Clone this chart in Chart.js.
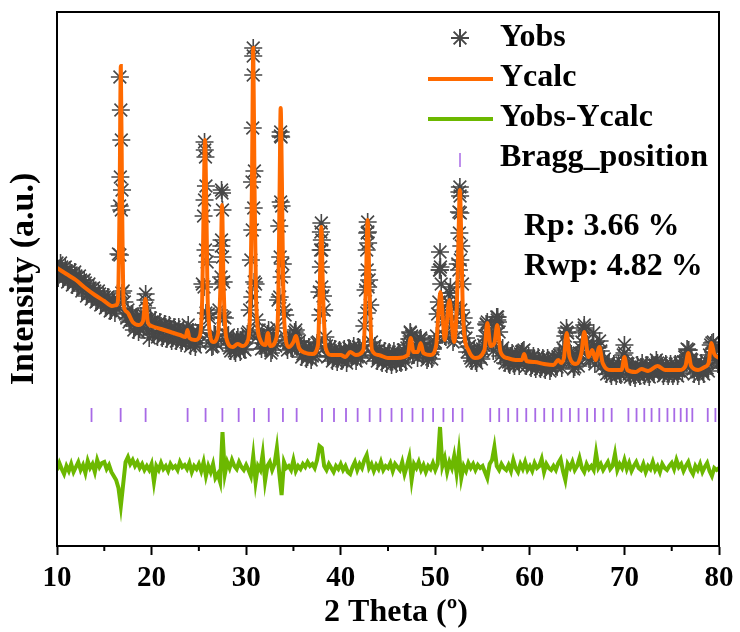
<!DOCTYPE html>
<html>
<head>
<meta charset="utf-8">
<script src="https://cdn.jsdelivr.net/npm/chart.js@4.4.1/dist/chart.umd.min.js"></script>
<style>
  html, body { margin: 0; padding: 0; background: #fff; }
  #wrap { width: 740px; height: 632px; }
</style>
</head>
<body>
<div id="wrap"><canvas id="xrd" width="740" height="632"></canvas></div>
<script>
// observed pattern on a regular 2theta grid
const obsStart = 10;
const obsStep = 0.25;
const yObs = [
  283, 272, 279, 270, 275, 266, 273, 263, 270, 260,
  266, 257, 263, 252, 258, 249, 255, 245, 252, 243,
  249, 240, 246, 236, 243, 238, 292, 436, 255, 232,
  236, 226, 231, 220, 226, 217, 225, 230, 238, 208,
  224, 212, 221, 215, 220, 210, 219, 213, 217, 208,
  216, 209, 214, 205, 212, 216, 206, 211, 203, 209,
  213, 216, 330, 360, 232, 206, 200, 211, 207, 262,
  336, 228, 210, 198, 204, 195, 206, 199, 204, 197,
  208, 214, 286, 490, 262, 210, 203, 207, 198, 212,
  207, 196, 205, 218, 320, 340, 236, 206, 203, 198,
  208, 212, 200, 199, 192, 196, 189, 195, 190, 197,
  203, 254, 296, 236, 200, 190, 194, 188, 193, 189,
  194, 187, 192, 188, 197, 190, 194, 189, 198, 194,
  220, 296, 266, 204, 191, 195, 188, 192, 186, 190,
  191, 185, 190, 186, 189, 184, 188, 192, 198, 207,
  210, 191, 197, 201, 206, 193, 195, 188, 194, 197,
  204, 232, 276, 236, 210, 228, 253, 220, 208, 240,
  334, 300, 228, 208, 199, 188, 192, 185, 193, 189,
  197, 210, 224, 206, 203, 211, 229, 214, 196, 188,
  191, 184, 190, 183, 189, 185, 192, 195, 186, 187,
  187, 181, 186, 180, 185, 179, 184, 180, 185, 178,
  184, 180, 189, 186, 198, 210, 213, 193, 186, 179,
  188, 193, 204, 218, 201, 187, 198, 194, 190, 199,
  195, 185, 177, 180, 173, 179, 174, 178, 172, 183,
  193, 183, 172, 177, 171, 176, 172, 179, 174, 177,
  172, 178, 175, 181, 183, 176, 179, 173, 178, 174,
  179, 173, 178, 175, 181, 184, 190, 196, 187, 177,
  180, 174, 179, 175, 181, 178, 191, 203, 198, 186,
  183
];

// the in-between observed points (10.125, 10.375, ...)
const obsMidStart = 10.125;
const yObsMid = [
  268, 283, 267, 279, 264, 276, 261, 274, 259, 270,
  255, 266, 250, 262, 247, 258, 244, 255, 241, 251,
  238, 249, 235, 246, 233, 247, 340, 356, 244, 228,
  224, 232, 216, 229, 214, 230, 218, 252, 215, 228,
  212, 226, 209, 224, 208, 222, 207, 221, 205, 219,
  205, 219, 203, 216, 204, 221, 200, 214, 199, 213,
  203, 262, 396, 284, 228, 199, 212, 202, 236, 300,
  264, 205, 211, 195, 206, 193, 209, 194, 207, 196,
  212, 236, 364, 375, 226, 216, 197, 209, 198, 216,
  193, 209, 200, 246, 410, 282, 231, 196, 207, 197,
  214, 199, 205, 189, 201, 187, 199, 186, 198, 190,
  204, 296, 250, 209, 189, 199, 185, 197, 184, 196,
  185, 197, 183, 198, 187, 200, 185, 199, 188, 201,
  256, 314, 241, 190, 200, 185, 197, 183, 195, 182,
  194, 181, 195, 182, 194, 183, 196, 184, 201, 213,
  191, 200, 188, 207, 192, 199, 186, 197, 187, 203,
  210, 244, 262, 224, 209, 244, 241, 204, 228, 282,
  350, 262, 218, 194, 200, 185, 196, 183, 197, 187,
  201, 222, 209, 206, 195, 218, 224, 190, 198, 183,
  194, 181, 193, 180, 192, 180, 194, 196, 180, 190,
  178, 190, 177, 189, 177, 188, 176, 188, 175, 187,
  188, 179, 191, 178, 196, 218, 187, 192, 177, 188,
  180, 198, 214, 199, 197, 186, 202, 182, 198, 205,
  180, 187, 172, 183, 170, 182, 170, 182, 171, 191,
  179, 182, 169, 180, 168, 181, 170, 183, 170, 181,
  169, 183, 172, 186, 173, 183, 170, 182, 170, 182,
  170, 182, 170, 183, 173, 189, 197, 182, 186, 172,
  183, 170, 183, 172, 185, 175, 201, 194, 197, 182
];

// extra observed points on the peak flanks
const yObsPeaks = [
  [16.65, 469], [16.8, 406], [16.7, 369], [16.8, 336], [16.65, 291], [16.85, 253],
  [19.35, 246],
  [25.6, 404], [25.7, 389], [25.6, 346], [25.7, 296], [25.55, 259], [25.75, 233],
  [27.4, 356], [27.45, 353], [27.4, 306], [27.5, 289], [27.35, 269], [27.55, 229],
  [30.75, 498], [30.75, 471], [30.7, 418], [30.8, 338], [30.65, 316], [30.85, 264], [30.65, 249],
  [33.65, 414], [33.7, 409], [33.65, 344], [33.6, 289], [33.75, 269], [33.55, 249],
  [35.25, 216],
  [37.95, 323], [37.9, 314], [38.0, 306], [37.9, 279], [38.0, 259], [37.85, 231],
  [42.85, 324], [42.8, 313], [42.9, 303], [42.8, 276], [42.9, 259], [42.75, 233],
  [47.35, 214], [48.45, 208],
  [50.5, 294], [50.55, 279], [50.45, 276], [51.5, 253], [51.6, 259],
  [52.6, 359], [52.55, 354], [52.65, 333], [52.55, 313], [52.65, 286], [52.5, 276], [52.7, 236],
  [55.45, 221], [56.6, 229], [56.55, 226],
  [63.9, 214], [65.75, 221], [65.8, 216], [66.75, 213], [70.0, 201], [76.8, 196], [79.4, 204]
];

// calculated profile
const yCalc = [
  [10.0, 278], [10.5, 275], [11.0, 272], [12.0, 266], [13.0, 258], [14.0, 251], [15.0, 245],
  [15.8, 240], [16.3, 241], [16.45, 246], [16.62, 346], [16.75, 480], [16.88, 346], [17.05, 241],
  [17.4, 234], [18.0, 224], [18.6, 221], [19.1, 225], [19.35, 247], [19.6, 224], [20.0, 220],
  [21.0, 217], [22.0, 214], [23.0, 211], [23.6, 209], [23.8, 216], [24.0, 208], [24.6, 206],
  [25.1, 210], [25.35, 246], [25.52, 346], [25.65, 406], [25.78, 346], [25.95, 241], [26.5, 204],
  [27.0, 211], [27.3, 266], [27.45, 341], [27.6, 266], [27.9, 208], [28.6, 199], [29.1, 202],
  [29.6, 200], [30.2, 206], [30.45, 246], [30.62, 366], [30.75, 498], [30.88, 366], [31.05, 246],
  [31.5, 206], [32.05, 201], [32.3, 213], [32.55, 200], [33.2, 208], [33.4, 246], [33.55, 366],
  [33.65, 438], [33.78, 366], [33.95, 241], [34.5, 199], [35.0, 204], [35.25, 210], [35.6, 198],
  [36.3, 193], [37.0, 192], [37.6, 201], [37.78, 256], [37.95, 319], [38.12, 256], [38.4, 198],
  [39.0, 191], [40.0, 191], [40.5, 189], [41.0, 194], [41.6, 191], [42.4, 196], [42.65, 256],
  [42.85, 326], [43.05, 256], [43.3, 196], [44.0, 191], [45.0, 188], [46.0, 188], [47.1, 191],
  [47.4, 208], [47.7, 194], [48.15, 194], [48.45, 203], [48.75, 193], [49.5, 191], [50.1, 201],
  [50.35, 236], [50.55, 254], [50.8, 226], [51.0, 206], [51.5, 246], [51.98, 204], [52.3, 246],
  [52.45, 306], [52.6, 356], [52.75, 306], [52.95, 226], [53.5, 196], [54.2, 188], [55.2, 196],
  [55.5, 223], [55.85, 200], [56.25, 203], [56.55, 221], [56.9, 194], [57.6, 188], [58.5, 186],
  [59.15, 186], [59.4, 192], [59.65, 185], [60.5, 184], [61.5, 182], [62.5, 181], [63.0, 186],
  [63.3, 183], [63.6, 188], [63.9, 213], [64.2, 189], [64.9, 182], [65.45, 193], [65.75, 214],
  [66.2, 189], [66.6, 196], [66.95, 186], [67.35, 199], [67.7, 183], [68.6, 176], [69.7, 176],
  [70.0, 189], [70.3, 176], [71.2, 174], [71.8, 177], [72.5, 175], [73.5, 180], [74.3, 176],
  [75.8, 176], [76.45, 180], [76.75, 193], [77.05, 180], [77.8, 176], [78.5, 179], [78.9, 183],
  [79.2, 203], [79.5, 192], [80.0, 188]
];

// Yobs - Ycalc, same grid as yObs
const yDiff = [
  76, 83, 77, 72, 80, 75, 82, 74, 79, 84,
  76, 81, 73, 85, 78, 82, 74, 86, 79, 83,
  84, 77, 81, 74, 70, 66, 58, 40, 62, 84,
  89, 82, 86, 80, 84, 78, 82, 76, 80, 76,
  82, 64, 80, 76, 83, 77, 80, 75, 82, 78,
  80, 76, 84, 79, 81, 77, 83, 74, 80, 77,
  82, 75, 84, 70, 80, 74, 82, 68, 72, 64,
  114, 72, 84, 78, 86, 80, 77, 84, 79, 76,
  81, 76, 70, 90, 64, 80, 76, 92, 65, 80,
  84, 76, 82, 98, 73, 51, 84, 78, 80, 76,
  86, 75, 80, 77, 82, 79, 84, 80, 82, 78,
  86, 100, 98, 80, 76, 82, 78, 74, 80, 77,
  82, 76, 80, 74, 72, 79, 84, 76, 82, 78,
  86, 91, 78, 82, 75, 81, 77, 84, 76, 80,
  78, 83, 75, 82, 79, 76, 84, 72, 80, 89,
  66, 82, 78, 84, 76, 81, 74, 80, 77, 83,
  76, 82, 119, 80, 88, 74, 84, 78, 90, 73,
  94, 68, 80, 75, 83, 78, 82, 76, 81, 78,
  80, 74, 68, 82, 86, 99, 80, 76, 82, 78,
  76, 81, 75, 86, 78, 74, 82, 77, 84, 76,
  80, 75, 83, 78, 80, 87, 74, 82, 78, 76,
  80, 76, 83, 87, 75, 66, 82, 78, 84, 76,
  80, 88, 78, 74, 82, 77, 80, 76, 93, 78,
  82, 76, 80, 84, 77, 80, 92, 76, 82, 78,
  86, 77, 83, 75, 80, 84, 78, 76, 82, 74,
  80, 77, 84, 76, 80, 74, 82, 78, 76, 80,
  83, 77, 86, 79, 82, 75, 80, 84, 76, 72,
  80, 76, 82, 74, 79, 83, 75, 70, 78, 76,
  78
];

const braggPos = [
  13.65, 16.73, 19.37, 23.81, 25.71, 27.49, 29.21, 30.84, 32.39, 33.89, 35.34,
  38.02, 39.29, 40.56, 41.79, 43.06, 44.19, 45.37, 46.46, 47.59, 48.68, 49.77,
  50.86, 51.86, 52.86, 55.81, 56.76, 57.71, 58.67, 59.62, 60.57, 61.52, 62.43,
  63.34, 64.24, 65.15, 66.06, 66.88, 67.78, 68.65, 70.42, 71.28, 72.10, 72.87,
  73.69, 74.55, 75.27, 75.95, 76.59, 77.18, 78.81, 79.62
];
const braggLevel = 131;

const xTicks = [10, 20, 30, 40, 50, 60, 70, 80];
const minorTicks = [15, 25, 35, 45, 55, 65, 75];
const legendLabels = ['Yobs', 'Ycalc', 'Yobs-Ycalc', 'Bragg_position'];
const statLines = ['Rp: 3.66 %', 'Rwp: 4.82 %'];

const FONT = "'Liberation Serif', 'Times New Roman', serif";
const OBS_COLOR = '#474747';
const CALC_COLOR = '#ff6a00';
const DIFF_COLOR = '#6cb800';
const BRAGG_COLOR = '#a86ae6';

const obsPoints = yObs.map((v, i) => ({ x: obsStart + i * obsStep, y: v }))
  .concat(yObsMid.map((v, i) => ({ x: obsMidStart + i * obsStep, y: v })))
  .concat(yObsPeaks.map(p => ({ x: p[0], y: p[1] })));
const calcPoints = yCalc.map(p => ({ x: p[0], y: p[1] }));
const diffPoints = yDiff.map((v, i) => ({ x: obsStart + i * obsStep, y: v }));
const braggPoints = braggPos.map(v => ({ x: v, y: braggLevel }));

const overlay = {
  id: 'overlay',
  afterDraw(chart) {
    const { ctx, chartArea: a, scales: { x } } = chart;
    ctx.save();
    ctx.strokeStyle = '#000';
    ctx.lineWidth = 2;
    ctx.strokeRect(a.left, a.top, a.right - a.left, a.bottom - a.top);

    // minor ticks on the 2theta axis
    minorTicks.forEach(v => {
      const px = x.getPixelForValue(v);
      ctx.beginPath();
      ctx.moveTo(px, a.bottom);
      ctx.lineTo(px, a.bottom + 5);
      ctx.stroke();
    });

    // legend
    const lx = 500;
    const rows = [38, 78, 118, 158];
    ctx.strokeStyle = OBS_COLOR;
    Chart.helpers.drawPoint(ctx, { pointStyle: 'star', radius: 9, borderWidth: 1.5 }, 460, rows[0]);
    ctx.lineWidth = 4;
    ctx.strokeStyle = CALC_COLOR;
    ctx.beginPath(); ctx.moveTo(428, rows[1] + 1); ctx.lineTo(493, rows[1] + 1); ctx.stroke();
    ctx.strokeStyle = DIFF_COLOR;
    ctx.beginPath(); ctx.moveTo(428, rows[2] + 1); ctx.lineTo(493, rows[2] + 1); ctx.stroke();
    ctx.lineWidth = 1.5;
    ctx.strokeStyle = BRAGG_COLOR;
    ctx.beginPath(); ctx.moveTo(460, 153); ctx.lineTo(460, 167); ctx.stroke();

    ctx.fillStyle = '#000';
    ctx.font = 'bold 32px ' + FONT;
    ctx.textBaseline = 'middle';
    ctx.textAlign = 'left';
    legendLabels.forEach((t, i) => ctx.fillText(t, lx, rows[i]));

    ctx.fillText(statLines[0], 524, 227);
    ctx.fillText(statLines[1], 524, 267);
    ctx.restore();
  }
};

new Chart(document.getElementById('xrd'), {
  type: 'scatter',
  data: {
    datasets: [
      {
        label: 'Ycalc',
        data: calcPoints,
        showLine: true,
        borderColor: CALC_COLOR,
        borderWidth: 4,
        pointRadius: 0,
        cubicInterpolationMode: 'monotone',
        order: 1
      },
      {
        label: 'Yobs',
        data: obsPoints,
        showLine: false,
        pointStyle: 'star',
        pointRadius: 9,
        borderColor: OBS_COLOR,
        borderWidth: 1.6,
        order: 2
      },
      {
        label: 'Yobs-Ycalc',
        data: diffPoints,
        showLine: true,
        borderColor: DIFF_COLOR,
        borderWidth: 4,
        pointRadius: 0,
        order: 3
      },
      {
        label: 'Bragg_position',
        data: braggPoints,
        showLine: false,
        pointStyle: 'line',
        rotation: 90,
        pointRadius: 7,
        borderColor: BRAGG_COLOR,
        borderWidth: 1.8,
        order: 4
      }
    ]
  },
  options: {
    responsive: false,
    animation: false,
    events: [],
    layout: { padding: { top: 12, right: 21, left: 0, bottom: 0 } },
    plugins: {
      legend: { display: false },
      tooltip: { enabled: false }
    },
    scales: {
      x: {
        type: 'linear',
        min: 10,
        max: 80,
        afterBuildTicks: scale => { scale.ticks = xTicks.map(v => ({ value: v })); },
        afterFit: scale => { scale.height = 86; },
        ticks: {
          color: '#000',
          padding: 6,
          maxRotation: 0,
          font: { family: FONT, size: 29, weight: 'bold' }
        },
        grid: { drawOnChartArea: false, drawTicks: true, tickLength: 9, tickWidth: 2, tickColor: '#000' },
        border: { display: true, color: '#000', width: 2 },
        title: {
          display: true,
          text: '\u20022 Theta (º)',
          color: '#000',
          padding: { top: 0, bottom: 0 },
          font: { family: FONT, size: 32, weight: 'bold' }
        }
      },
      y: {
        type: 'linear',
        min: 0,
        max: 534,
        afterFit: scale => { scale.width = 57; },
        ticks: { display: false },
        grid: { display: false },
        border: { display: true, color: '#000', width: 2 },
        title: {
          display: true,
          text: 'Intensity (a.u.)',
          color: '#000',
          padding: { top: 4, bottom: 0 },
          font: { family: FONT, size: 34, weight: 'bold' }
        }
      }
    }
  },
  plugins: [overlay]
});
</script>
</body>
</html>
